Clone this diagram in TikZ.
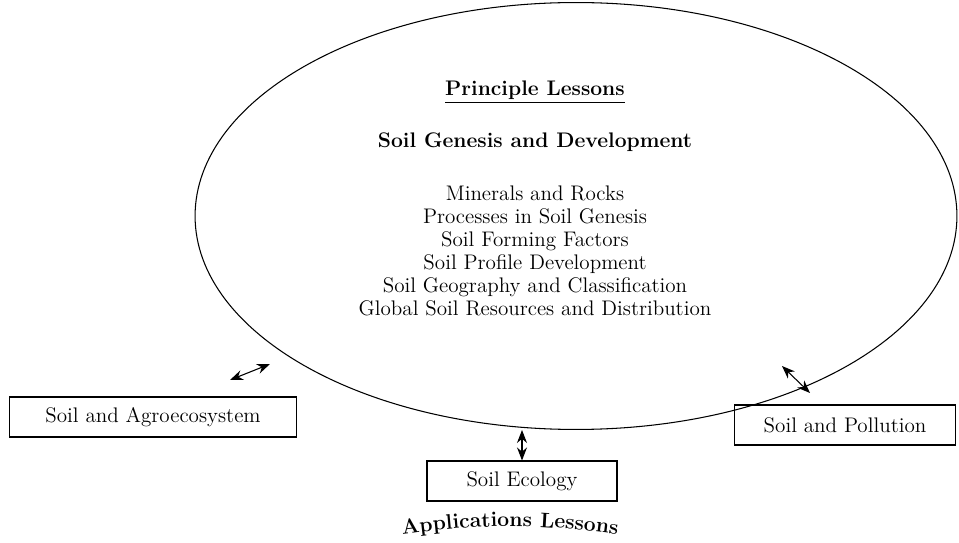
\documentclass[tikz,border=0pt]{standalone}
\usepackage{tikz}
\usetikzlibrary{shapes.geometric,arrows.meta,decorations.text}

\tikzset{
  appbox/.style = {draw, line width=0.6pt, minimum height=0.8cm, inner sep=0pt,
                   font=\fontsize{12}{13}\selectfont},
  link/.style   = {{Stealth[length=2.6mm,width=2mm]}-{Stealth[length=2.6mm,width=2mm]}, line width=0.6pt}
}

\begin{document}
\begin{tikzpicture}[x=0.02cm, y=-0.02cm]
      \useasboundingbox (0,0) rectangle (959,543);

      % principle lessons
      \node[draw, ellipse, line width=0.6pt, inner sep=0pt,
            minimum width=15.24cm, minimum height=8.54cm] (lessons) at (576,216) {};
      \node (title) at (535,92) {\fontsize{12}{13}\selectfont\bfseries\underline{Principle Lessons}};
      \node (genesis) at (535,142) {\fontsize{12}{13}\selectfont\bfseries Soil Genesis and Development};
      \node[align=center, font=\fontsize{12}{13.1}\selectfont] (topics) at (535,251)
        {Minerals and Rocks\\ Processes in Soil Genesis\\ Soil Forming Factors\\
         Soil Profile Development\\ Soil Geography and Classification\\
         Global Soil Resources and Distribution};

      % applications
      \node[appbox, minimum width=5.74cm] (agro) at (153,417) {Soil and Agroecosystem};
      \node[appbox, minimum width=4.42cm] (pollution) at (845,425) {Soil and Pollution};
      \node[appbox, minimum width=3.8cm] (ecology) at (522,481) {Soil Ecology};

      \coordinate (agroA) at (230,380);
      \coordinate (agroB) at (270,364);
      \coordinate (pollA) at (782,366);
      \coordinate (pollB) at (810,393);

      \draw[link] (agroA) -- (agroB);
      \draw[link] (pollA) -- (pollB);
      \draw[link] (ecology.north |- lessons.south) -- (ecology.north);

      \path[decorate, decoration={text along path, text align=center,
            text={|\fontsize{12}{14}\selectfont\bfseries|Applications Lessons}}]
            (392,536) to[bend left=8] (628,536);
    \end{tikzpicture}
\end{document}
